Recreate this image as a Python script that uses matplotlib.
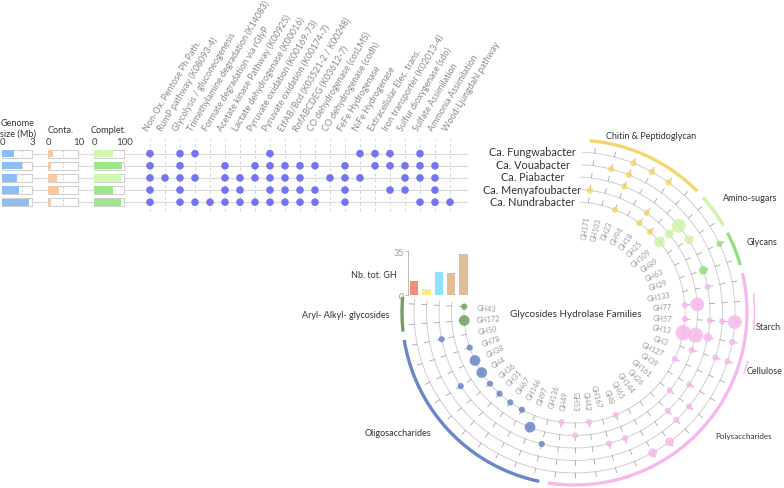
import numpy as np
import matplotlib
matplotlib.use("Agg")
import matplotlib.pyplot as plt

plt.rcParams['font.family'] = ['Lato', 'DejaVu Sans']

# ---------------- data ----------------
genomes = ["Ca. Fungwabacter", "Ca. Vouabacter", "Ca. Piabacter",
           "Ca. Menyafoubacter", "Ca. Nundrabacter"]
genome_size_mb = [1.17, 2.00, 1.44, 1.67, 2.67]
contamination = [1.7, 0.9, 2.8, 3.6, 0.8]
completeness = [61, 93, 88, 61, 88]
total_gh = [11.5, 4.5, 18.5, 17.5, 32.5]

pathways = [
    "Non-Ox. Pentose Ph Path.",
    "RumP pathway (K08093-4)",
    "Glycolysis / gluconeogenesis",
    "Trimethylamine degradation (K14083)",
    "Formate degradation via rGlyP",
    "Acetate kinase Pathway (K00925)",
    "Lactate dehydrogenase (K00016)",
    "Pyruvate oxidation (K00169-73)",
    "Pyruvate oxidation (K00174-7)",
    "EtfAB/Bcd (K03521-2 / K00248)",
    "RnfABCDEG (K03612-7)",
    "CO dehydrogenase (cosLMS)",
    "CO dehydrogenase (codh)",
    "FeFe Hydrogenase",
    "NiFe Hydrogenase",
    "Extracellular Elec. trans.",
    "Iron transporter (K02013-4)",
    "Sulfur dioxygenase (sdo)",
    "Sulfate Assimilation",
    "Ammonia Assimilation",
    "Wood-Ljungdahl pathway",
]
pathway_presence = [
    [1, 0, 1, 1, 0, 0, 0, 0, 1, 0, 0, 0, 0, 0, 1, 1, 1, 0, 1, 0, 0],
    [1, 0, 1, 0, 0, 1, 0, 1, 1, 1, 1, 1, 0, 1, 0, 1, 1, 1, 1, 1, 0],
    [1, 1, 1, 1, 0, 1, 1, 1, 1, 1, 1, 0, 1, 1, 1, 0, 0, 1, 1, 1, 0],
    [1, 0, 1, 0, 0, 1, 1, 0, 1, 1, 1, 1, 0, 1, 0, 0, 1, 1, 0, 1, 0],
    [1, 0, 1, 1, 1, 1, 1, 1, 1, 1, 1, 1, 0, 1, 0, 0, 0, 0, 1, 1, 1],
]

gh_families = ["GH171", "GH103", "GH23", "GH94", "GH18", "GH25", "GH109", "GH89",
               "GH63", "GH29", "GH133", "GH77", "GH57", "GH13", "GH3", "GH127",
               "GH39", "GH161", "GH26", "GH144", "GH65", "GH8", "GH167", "GH42",
               "GH53", "GH49", "GH136", "GH97", "GH146", "GH67", "GH31", "GH36",
               "GH4", "GH38", "GH78", "GH50", "GH172", "GH43"]

gh_categories = {
    "Chitin & Peptidoglycan": ["GH171", "GH103", "GH23", "GH94", "GH18", "GH25"],
    "Amino-sugars": ["GH109", "GH89"],
    "Glycans": ["GH63", "GH29"],
    "Polysaccharides": ["GH133", "GH77", "GH57", "GH13", "GH3", "GH127", "GH39",
                        "GH161", "GH26", "GH144", "GH65", "GH8", "GH167", "GH42",
                        "GH53", "GH49"],
    "Oligosaccharides": ["GH136", "GH97", "GH146", "GH67", "GH31", "GH36", "GH4",
                         "GH38", "GH78", "GH50"],
    "Aryl- Alkyl- glycosides": ["GH172", "GH43"],
}
gh_subcategories = {"Starch": ["GH77", "GH57"], "Cellulose": ["GH3"]}

gh_counts = [
    {"GH23": 1, "GH94": 1, "GH18": 1, "GH63": 1, "GH57": 5, "GH13": 1, "GH3": 1,
     "GH144": 2, "GH65": 2},
    {"GH103": 1, "GH23": 1, "GH57": 1, "GH3": 1, "GH161": 1, "GH26": 1},
    {"GH23": 1, "GH109": 5, "GH89": 2, "GH29": 2, "GH133": 1, "GH57": 1, "GH13": 2,
     "GH39": 1, "GH26": 1, "GH8": 1, "GH167": 1, "GH136": 1, "GH4": 1, "GH50": 1},
    {"GH171": 1, "GH18": 1, "GH109": 2, "GH77": 5, "GH13": 6, "GH3": 1, "GH161": 1,
     "GH53": 1, "GH97": 3},
    {"GH23": 1, "GH18": 1, "GH25": 1, "GH109": 3, "GH77": 1, "GH57": 1, "GH13": 6,
     "GH127": 1, "GH8": 1, "GH42": 1, "GH49": 1, "GH146": 1, "GH67": 1, "GH31": 1,
     "GH36": 1, "GH4": 3, "GH38": 3, "GH78": 1, "GH172": 3, "GH43": 1},
]

# ---------------- styles ----------------
cat_colors = {
    "Chitin & Peptidoglycan": "#F8D46C",
    "Amino-sugars": "#CDF4A8",
    "Glycans": "#93E178",
    "Polysaccharides": "#F7B8EC",
    "Oligosaccharides": "#6A86C8",
    "Aryl- Alkyl- glycosides": "#739F5E",
}
gsize_color = "#8DBEF4"
conta_color = "#FAC8A0"
complet_colors = ["#CFF8B2", "#9DE78B", "#CFF8B2", "#9DE78B", "#9DE78B"]
bar_colors = ["#F28E7C", "#FBE98C", "#8EE2FB", "#E1BE98", "#DFBD98"]
dot_color = "#7474F2"

W, H = 784, 489
fig = plt.figure(figsize=(W / 100, H / 100), dpi=100)


def px_axes(x0, y0, x1, y1, **kw):
    return fig.add_axes([x0 / W, 1 - y1 / H, (x1 - x0) / W, (y1 - y0) / H], **kw)


def ftext(x, y, s, **kw):
    fig.text(x / W, 1 - y / H, s, **kw)


ROW_Y0, ROW_DY = 154.6, 12.15
COL_X0, COL_DX = 150.0, 15.0


def rowv(py):
    return (py - ROW_Y0) / ROW_DY


def colv(px):
    return (px - COL_X0) / COL_DX


rows = np.arange(len(genomes))

# ---------------- dot matrix ----------------
ax_m = px_axes(2, 138, 472, 214)
ax_m.set_xlim(colv(2), colv(472))
ax_m.set_ylim(rowv(214), rowv(138))
ax_m.axis("off")
ax_m.hlines(rows, colv(30), colv(468), color="#dadada", lw=0.8, zorder=0)
ax_m.vlines(np.arange(len(pathways)), rowv(212), rowv(140), color="#d4d4d4",
            lw=0.7, linestyles=(0, (3, 3)), zorder=0)
for i, pres in enumerate(pathway_presence):
    xs = [j for j, v in enumerate(pres) if v]
    ax_m.scatter(xs, [i] * len(xs), s=30, color=dot_color, edgecolors="none", zorder=3)
for j, name in enumerate(pathways):
    ax_m.text(j - 0.15, rowv(132), name, rotation=59, rotation_mode="anchor",
              ha="left", va="baseline", fontsize=6.5, color="#8a8a8a")

# ---------------- left bars ----------------
specs = [(2.3, 3, genome_size_mb, [gsize_color] * 5, 2.0, "3"),
         (48.3, 10, contamination, [conta_color] * 5, 5.0, "10"),
         (94.3, 100, completeness, complet_colors, 50.0, "100")]
for x0, vmax, vals, cols, ref, lab in specs:
    ax = px_axes(x0, 148.5, x0 + 30, 209.2)
    ax.set_zorder(2)
    ax.patch.set_alpha(0)
    ax.set_xlim(0, vmax)
    ax.set_ylim(rowv(209.2), rowv(148.5))
    ax.barh(rows, [vmax] * 5, height=0.66, color="white", edgecolor="#cfcfcf",
            lw=0.8, clip_on=False, zorder=1)
    ax.vlines([ref] * 5, rows - 0.3, rows + 0.3, color="#cccccc", lw=0.7,
              linestyles=(0, (2, 2)), zorder=1.5)
    ax.barh(rows, vals, height=0.6, color=cols, zorder=2)
    for s in ax.spines.values():
        s.set_visible(False)
    ax.xaxis.tick_top()
    ax.set_xticks([0, vmax])
    ax.set_xticklabels(["0", lab])
    ax.tick_params(axis="x", length=0, pad=1.0, labelsize=7, labelcolor="#444444")
    ax.set_yticks([])

ftext(1, 124, "Genome", fontsize=6.6, color="#333333", va="center")
ftext(0, 134, "size (Mb)", fontsize=6.6, color="#333333", va="center")
ftext(60.5, 131, "Conta.", fontsize=6.6, color="#333333", va="center", ha="center")
ftext(108.5, 131, "Complet.", fontsize=6.6, color="#333333", va="center", ha="center")

# ---------------- circular GH plot ----------------
CX, CY, RMAX = 574.5, 313.5, 192
ax_p = px_axes(CX - RMAX, CY - RMAX, CX + RMAX, CY + RMAX, projection="polar")
ax_p.set_rlim(0, RMAX)
ax_p.axis("off")
ax_p.set_zorder(1)

TH0, SPAN = 86.4, 273.0
STEP = SPAN / len(gh_families)
ring_r = [160.5, 148.0, 135.5, 123.0, 110.5]
fam_idx = {f: k for k, f in enumerate(gh_families)}
fam_cat = {f: c for c, fl in gh_categories.items() for f in fl}


def th_center(k):
    return np.deg2rad(TH0 - STEP * (k + 0.5))


centers = np.array([th_center(k) for k in range(len(gh_families))])

arc_th = np.deg2rad(np.linspace(TH0 + 0.8, TH0 - SPAN + 1.8, 600))
for r in ring_r:
    ax_p.plot(arc_th, np.full_like(arc_th, r), color="#cfcfcf", lw=0.7, zorder=1)
    for t in centers:
        ax_p.plot([t, t], [r, r + 5], color="#a8a8a8", lw=0.6, zorder=1)

for gi, counts in enumerate(gh_counts):
    fams = list(counts.keys())
    th = [centers[fam_idx[f]] for f in fams]
    rad_px = [3.1 * np.sqrt(counts[f]) for f in fams]
    s = [(2 * rp * 0.72) ** 2 for rp in rad_px]
    cols = [cat_colors[fam_cat[f]] for f in fams]
    ax_p.scatter(th, [ring_r[gi]] * len(fams), s=s, c=cols, alpha=0.85,
                 edgecolors="none", zorder=3)

# GH labels
for k, fam in enumerate(gh_families):
    d = (TH0 - STEP * (k + 0.5) + 180) % 360 - 180
    if -90 <= d <= 90:
        rot, ha = d, "right"
    else:
        rot, ha = d + 180, "left"
    ax_p.text(centers[k], 98, fam, rotation=rot, rotation_mode="anchor", ha=ha,
              va="center", fontsize=5.3, color="#9a9a9a")

# category arcs
PAD = 1.4
for cat, fl in gh_categories.items():
    k0, k1 = fam_idx[fl[0]], fam_idx[fl[-1]]
    a0 = TH0 - STEP * k0 - PAD
    a1 = TH0 - STEP * (k1 + 1) + PAD
    th = np.deg2rad(np.linspace(a0, a1, 200))
    ax_p.plot(th, np.full_like(th, 172.5), color=cat_colors[cat], lw=2.4,
              solid_capstyle="butt", zorder=2)
for sub, fl in gh_subcategories.items():
    k0, k1 = fam_idx[fl[0]], fam_idx[fl[-1]]
    a0 = TH0 - STEP * k0 - PAD
    a1 = TH0 - STEP * (k1 + 1) + PAD
    th = np.deg2rad(np.linspace(a0, a1, 100))
    ax_p.plot(th, np.full_like(th, 180), color=cat_colors["Polysaccharides"],
              lw=1.1, solid_capstyle="butt", zorder=2)

# genome labels at ring starts
for gi, g in enumerate(genomes):
    ftext(532.5, CY - ring_r[gi], g, fontsize=7.8, color="#333333",
          ha="center", va="center")

# category labels
lab_kw = dict(fontsize=6.5, color="#333333", va="center")
ftext(606, 137, "Chitin & Peptidoglycan", ha="left", **lab_kw)
ftext(723, 199, "Amino-sugars", ha="left", **lab_kw)
ftext(747, 243, "Glycans", ha="left", **lab_kw)
ftext(756, 328, "Starch", ha="left", **lab_kw)
ftext(747, 372, "Cellulose", ha="left", **lab_kw)
ftext(715, 437, "Polysaccharides", ha="left", fontsize=5.8, color="#333333", va="center")
ftext(365, 434, "Oligosaccharides", ha="left", **lab_kw)
ftext(390, 316, "Aryl- Alkyl- glycosides", ha="right", **lab_kw)
ftext(397, 275, "Nb. tot. GH", ha="right", **lab_kw)
ftext(CX + 1, 315, "Glycosides Hydrolase Families", ha="center", fontsize=7.1,
      color="#333333", va="center")

# ---------------- total GH bar chart ----------------
BX0, BDX = 414.0, 12.4
ax_b = px_axes(407.7, 252.3, 470, 296)
ax_b.set_xlim((407.7 - BX0) / BDX, (470 - BX0) / BDX)
ax_b.set_ylim(0, 35)
ax_b.bar(rows, total_gh, width=8.3 / BDX, color=bar_colors)
ax_b.patch.set_alpha(0)
for s in ["top", "right", "bottom"]:
    ax_b.spines[s].set_visible(False)
ax_b.spines["left"].set_color("#bbbbbb")
ax_b.spines["left"].set_linewidth(0.7)
ax_b.set_xticks([])
ax_b.set_yticks([0, 35])
ax_b.tick_params(axis="y", length=2, width=0.6, color="#bbbbbb", pad=1,
                 labelsize=6.4, labelcolor="#999999")

fig.savefig("out.png", dpi=100)
